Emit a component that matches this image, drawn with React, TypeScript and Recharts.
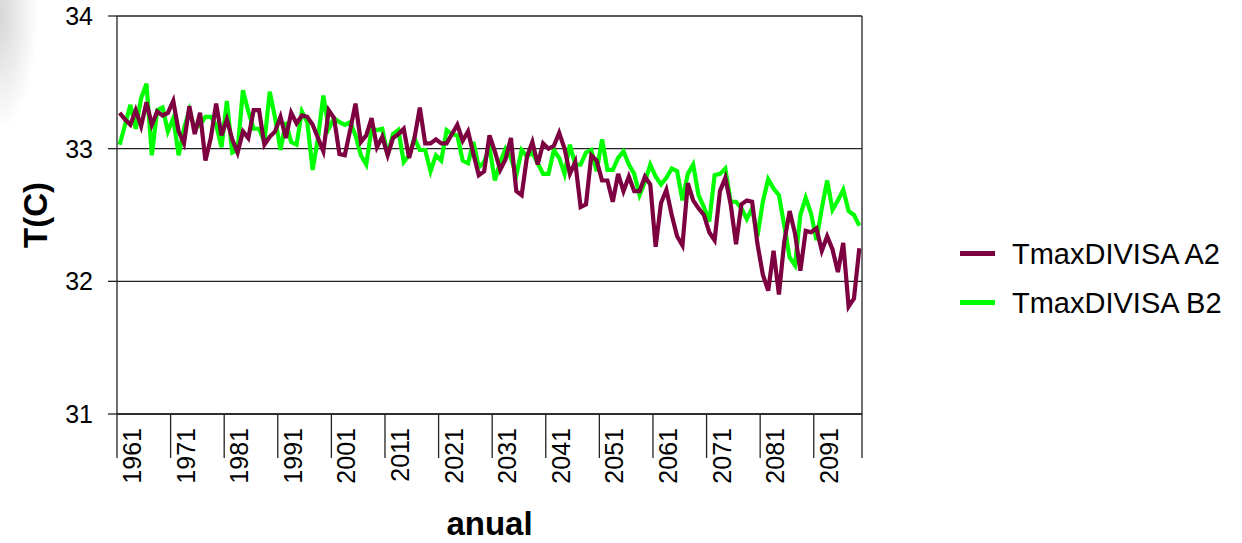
import React from "react";
import {
  LineChart,
  Line,
  XAxis,
  YAxis,
  CartesianGrid,
  Legend,
  Label,
} from "recharts";

const FIRST_YEAR = 1961;

// TmaxDIVISA A2, 1961-2099
const A2_VALUES = [
  33.27, 33.22, 33.18, 33.29, 33.17, 33.35, 33.18, 33.28, 33.25, 33.27,
  33.36, 33.13, 33.04, 33.32, 33.11, 33.27, 32.91, 33.08, 33.34, 33.1,
  33.22, 33.07, 32.97, 33.13, 33.08, 33.29, 33.29, 33.03, 33.09, 33.13,
  33.24, 33.08, 33.27, 33.19, 33.25, 33.24, 33.18, 33.08, 32.98, 33.29,
  33.23, 32.96, 32.95, 33.14, 33.34, 33.05, 33.1, 33.23, 33.01, 33.09,
  32.95, 33.08, 33.11, 33.15, 32.93, 33.08, 33.31, 33.04, 33.04, 33.07,
  33.04, 33.04, 33.11, 33.18, 33.06, 33.13, 32.96, 32.8, 32.83, 33.1,
  32.98, 32.84, 32.92, 33.08, 32.68, 32.65, 32.94, 33.05, 32.88, 33.04,
  33.0, 33.02, 33.12, 33.0, 32.81, 32.9, 32.56, 32.58, 32.95, 32.91,
  32.76, 32.76, 32.6, 32.81, 32.68, 32.79, 32.68, 32.68, 32.79, 32.73,
  32.26, 32.59, 32.69, 32.5, 32.34, 32.27, 32.74, 32.61, 32.55, 32.5,
  32.37, 32.31, 32.68, 32.78, 32.58, 32.28, 32.58, 32.61, 32.6, 32.28,
  32.05, 31.93, 32.23, 31.9, 32.3, 32.53, 32.36, 32.08, 32.38, 32.37,
  32.4, 32.23, 32.34, 32.24, 32.07, 32.29, 31.81, 31.87, 32.25,
];

// TmaxDIVISA B2, 1961-2099
const B2_VALUES = [
  33.03, 33.18, 33.33, 33.15, 33.38, 33.49, 32.95, 33.29, 33.31, 33.13,
  33.23, 32.95, 33.15, 33.29, 33.15, 33.18, 33.24, 33.24, 33.18, 33.01,
  33.36, 32.97, 32.99, 33.44, 33.28, 33.15, 33.15, 33.05, 33.43, 33.23,
  32.99, 33.2, 33.05, 33.03, 33.28, 33.2, 32.84, 33.08, 33.4, 33.15,
  33.23, 33.2, 33.18, 33.2, 33.1, 32.95, 32.88, 33.15, 33.14, 33.15,
  32.95, 33.11, 33.14, 32.9, 32.95, 33.08, 32.99, 32.99, 32.83, 32.95,
  32.91, 33.14, 33.11, 33.1, 32.91, 32.89, 33.05, 32.86, 32.9, 33.01,
  32.76, 32.9, 33.0, 32.93, 32.8, 32.99, 32.94, 32.97, 32.89, 32.81,
  32.81, 32.99, 32.93, 32.81, 33.03, 32.88, 32.88, 32.97, 32.99, 32.83,
  33.07, 32.84, 32.84, 32.93, 32.98, 32.88, 32.81, 32.65, 32.75, 32.88,
  32.79, 32.73, 32.78, 32.85, 32.83, 32.61, 32.81, 32.88, 32.65, 32.56,
  32.45, 32.8, 32.81, 32.85, 32.6, 32.6, 32.55, 32.47, 32.55, 32.34,
  32.6, 32.77, 32.7, 32.65, 32.42, 32.18, 32.12, 32.5, 32.63, 32.51,
  32.31, 32.55, 32.76, 32.54, 32.61, 32.69, 32.53, 32.5, 32.42,
];

const YEAR_TICKS = [
  1960.5, 1970.5, 1980.5, 1990.5, 2000.5, 2010.5, 2020.5, 2030.5, 2040.5,
  2050.5, 2060.5, 2070.5, 2080.5, 2090.5, 2099.5,
];
const TEMP_TICKS = [31, 32, 33, 34];

const SERIES = [
  { key: "a2", name: "TmaxDIVISA A2", color: "#7d0040" },
  { key: "b2", name: "TmaxDIVISA B2", color: "#00ff00" },
];

const data = A2_VALUES.map((v, i) => ({
  year: FIRST_YEAR + i,
  a2: v,
  b2: B2_VALUES[i],
}));

const FONT = '"Liberation Sans", Arial, sans-serif';
const AXIS_COLOR = "#222";
const TICK_FONT = 25;

function YearTick(props: any) {
  const { x, y, payload } = props;
  if (payload.value > 2095) return <g />;
  return (
    <text
      transform={`translate(${x + 15}, ${y - 30}) rotate(-90)`}
      textAnchor="end"
      dominantBaseline="central"
      fontSize={TICK_FONT}
      fontFamily={FONT}
      fill="#000"
    >
      {payload.value + 0.5}
    </text>
  );
}

function LegendBox() {
  return (
    <div style={{ fontFamily: FONT, fontSize: 29, color: "#000" }}>
      {SERIES.map((s) => (
        <div
          key={s.key}
          style={{ display: "flex", alignItems: "center", height: 49, lineHeight: "49px" }}
        >
          <span
            style={{
              display: "inline-block",
              width: 35,
              height: 4.5,
              background: s.color,
              marginRight: 17,
              marginTop: -2,
            }}
          />
          <span style={{ whiteSpace: "nowrap" }}>{s.name}</span>
        </div>
      ))}
    </div>
  );
}

export default function App() {
  return (
    <div
      style={{
        position: "absolute",
        left: 0,
        top: 0,
        width: 1242,
        height: 543,
        background: "#fff",
        overflow: "hidden",
      }}
    >
      <div
        style={{
          position: "absolute",
          left: 0,
          top: 0,
          width: 60,
          height: 140,
          background:
            "radial-gradient(ellipse 38px 115px at 0px 15px, #d6d6d6 0%, rgba(255,255,255,0) 100%)",
        }}
      />
      <LineChart
        width={1242}
        height={543}
        data={data}
        margin={{ top: 16, right: 0, bottom: 0, left: 0 }}
        style={{ position: "absolute", left: 0, top: 0 }}
      >
        <CartesianGrid
          yAxisId="left"
          vertical={false}
          stroke={AXIS_COLOR}
          strokeWidth={1.3}
        />
        <XAxis
          dataKey="year"
          type="number"
          domain={[1960.5, 2099.5]}
          ticks={YEAR_TICKS}
          interval={0}
          height={129}
          tickSize={44}
          tickMargin={0}
          tick={<YearTick />}
          stroke={AXIS_COLOR}
          strokeWidth={1.3}
        >
          <Label
            content={(p: any) => {
              const vb = p.viewBox;
              return (
                <text
                  x={vb.x + vb.width / 2}
                  y={vb.y + 121}
                  textAnchor="middle"
                  fontSize={33}
                  fontWeight="bold"
                  fontFamily={FONT}
                  fill="#000"
                >
                  anual
                </text>
              );
            }}
          />
        </XAxis>
        <YAxis
          yAxisId="left"
          domain={[31, 34]}
          ticks={TEMP_TICKS}
          width={117}
          tickSize={9}
          tickMargin={15}
          stroke={AXIS_COLOR}
          strokeWidth={1.3}
          tick={{ fontSize: TICK_FONT, fill: "#000", fontFamily: FONT }}
        >
          <Label
            content={(p: any) => {
              const vb = p.viewBox;
              const cx = 35;
              const cy = vb.y + vb.height / 2;
              return (
                <text
                  x={cx}
                  y={cy}
                  transform={`rotate(-90, ${cx}, ${cy})`}
                  textAnchor="middle"
                  dominantBaseline="central"
                  fontSize={33}
                  fontWeight="bold"
                  fontFamily={FONT}
                  fill="#000"
                >
                  T(C)
                </text>
              );
            }}
          />
        </YAxis>
        <YAxis
          yAxisId="right"
          orientation="right"
          domain={[31, 34]}
          ticks={TEMP_TICKS}
          width={380}
          tickSize={10}
          tickMargin={15}
          stroke={AXIS_COLOR}
          strokeWidth={1.3}
          tick={{ fontSize: TICK_FONT, fill: "#000", fontFamily: FONT, textAnchor: "start" }}
        />
        <Legend
          layout="vertical"
          align="center"
          verticalAlign="middle"
          content={<LegendBox />}
          wrapperStyle={{ left: 960, top: 230, width: 282, height: 98 }}
        />
        {[...SERIES].reverse().map((s) => (
          <Line
            key={s.key}
            yAxisId="left"
            type="linear"
            dataKey={s.key}
            name={s.name}
            stroke={s.color}
            strokeWidth={4.2}
            dot={false}
            activeDot={false}
            isAnimationActive={false}
          />
        ))}
      </LineChart>
    </div>
  );
}
